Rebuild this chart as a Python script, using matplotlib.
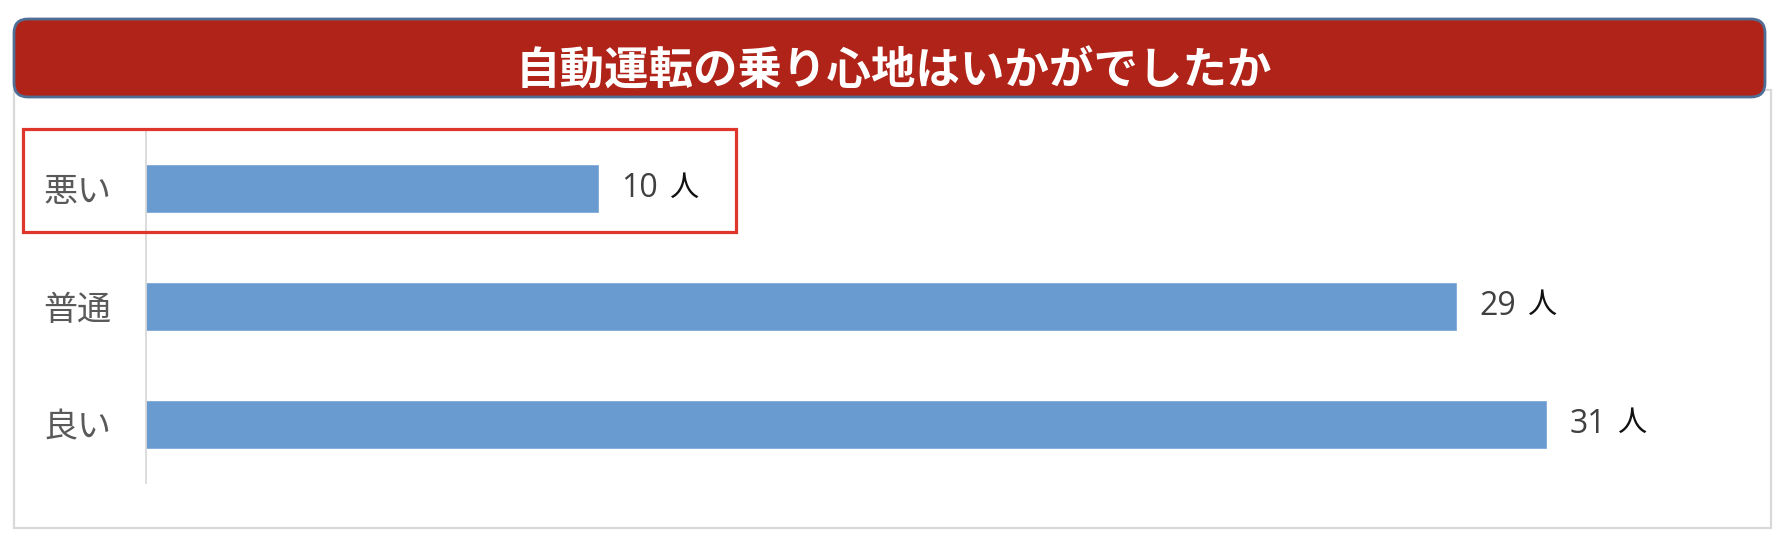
import matplotlib
matplotlib.use("Agg")
import matplotlib.pyplot as plt
from matplotlib.patches import FancyBboxPatch, Rectangle

plt.rcParams['font.family'] = ['Noto Sans CJK JP', 'DejaVu Sans']

title = "自動運転の乗り心地はいかがでしたか"
categories = ["悪い", "普通", "良い"]
values = [10, 29, 31]
unit = "人"

W, H = 1788, 536
fig = plt.figure(figsize=(W / 100, H / 100), dpi=100)
fig.patch.set_facecolor("white")

# Background frame in pixel coordinates
bg = fig.add_axes([0, 0, 1, 1], zorder=0)
bg.set_xlim(0, W)
bg.set_ylim(H, 0)
bg.axis("off")
bg.add_patch(Rectangle((14, 90), 1771 - 14, 528 - 90, facecolor="white",
                       edgecolor="#D9D9D9", lw=1.6))

# Main chart axes
left_px, right_px, top_px, bot_px = 146, 1747, 130, 483
ax = fig.add_axes([left_px / W, 1 - bot_px / H, (right_px - left_px) / W, (bot_px - top_px) / H], zorder=1)
ax.patch.set_alpha(0)
px_per_unit = 45.16
ax.set_xlim(0, (right_px - left_px) / px_per_unit)
ax.set_ylim(len(categories) - 0.5, -0.5)

ypos = list(range(len(categories)))
ax.barh(ypos, values, height=0.4, color="#699BD0", edgecolor="#7FAAD8", lw=0.6)
for y, v in zip(ypos, values):
    ax.annotate(f"{v}", xy=(v, y), xytext=(17, 0), textcoords="offset points",
                ha="left", va="center", fontsize=23, color="#404040",
                family=["Open Sans", "DejaVu Sans"])
    ax.annotate(unit, xy=(v, y), xytext=(17 + 0.7 * 22 * len(str(v)) * 0.82 + 9, 1),
                textcoords="offset points", ha="left", va="center",
                fontsize=21, color="#111111")

ax.set_yticks(ypos)
ax.set_yticklabels(categories, fontsize=24.5, color="#595959")
ax.tick_params(axis="y", length=0, pad=25)
ax.set_xticks([])
for s in ["top", "right", "bottom"]:
    ax.spines[s].set_visible(False)
ax.spines["left"].set_color("#D9D9D9")
ax.spines["left"].set_linewidth(1.3)

# Top overlay: banner and red highlight box
fg = fig.add_axes([0, 0, 1, 1], zorder=2)
fg.set_xlim(0, W)
fg.set_ylim(H, 0)
fg.axis("off")
fg.patch.set_alpha(0)
fg.add_patch(FancyBboxPatch((14, 19), 1765 - 14, 97 - 19,
                            boxstyle="round,pad=0,rounding_size=14",
                            facecolor="#B02318", edgecolor="#4F6E96", lw=2.0))
fg.text(894, 72, title, ha="center", va="center", color="white",
        fontsize=32, fontweight="bold")
fg.add_patch(Rectangle((23, 129), 736 - 23, 232 - 129, facecolor="none",
                       edgecolor="#E0352B", lw=2.3))

fig.savefig("out.png", dpi=100, facecolor="white")
